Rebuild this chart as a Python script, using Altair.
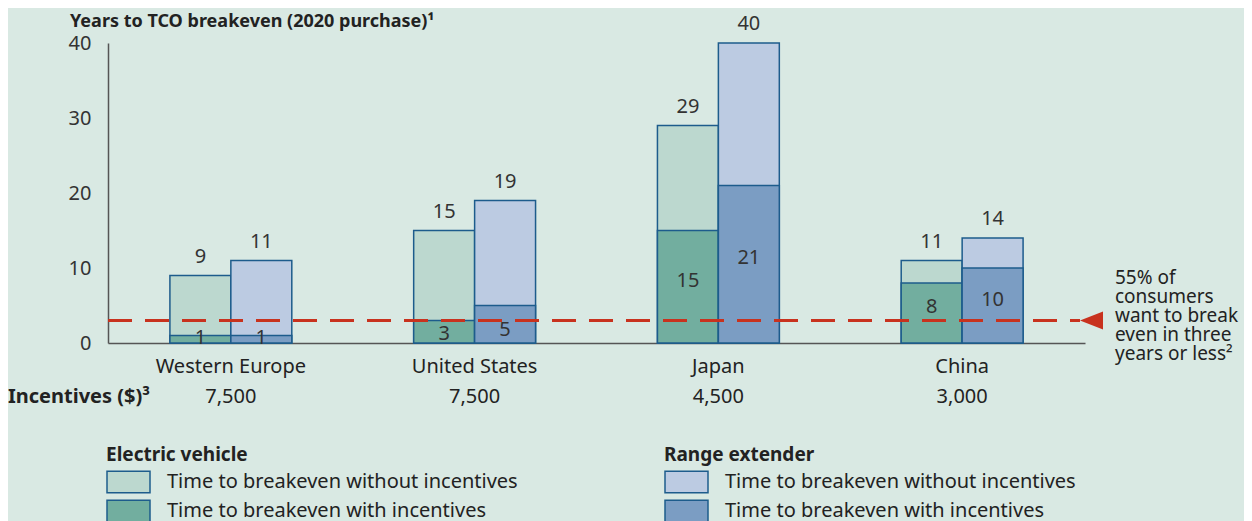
import altair as alt
import pandas as pd

regions = ["Western Europe", "United States", "Japan", "China"]
ev_without = [9, 15, 29, 11]
ev_with = [1, 3, 15, 8]
re_without = [11, 19, 40, 14]
re_with = [1, 5, 21, 10]
incentives = ["7,500", "7,500", "4,500", "3,000"]
threshold = [3]
annotation = ["55% of", "consumers", "want to break", "even in three", "years or less²"]
vehicles = ["Electric vehicle", "Range extender"]
series = ["Time to breakeven without incentives", "Time to breakeven with incentives"]
ev_colors = ["#bcd8cf", "#72ae9f"]
re_colors = ["#bccbe2", "#7b9dc3"]

BG = "#d9e9e3"
EDGE = "#1d5c8c"
RED = "#c8321e"
TXT = "#222222"
FONT = "Noto Sans"

rows = []
for veh, wo, wi in [(vehicles[0], ev_without, ev_with), (vehicles[1], re_without, re_with)]:
    for r, v in zip(regions, wo):
        rows.append(dict(region=r, vehicle=veh, series=series[0], years=v))
    for r, v in zip(regions, wi):
        rows.append(dict(region=r, vehicle=veh, series=series[1], years=v))
df = pd.DataFrame(rows)
df_inc = pd.DataFrame({"region": regions, "incentive": incentives})
df_thr = pd.DataFrame({"threshold": threshold})
df_lbl = pd.DataFrame({"a": [0]})

X = alt.X("region:N", sort=regions,
          scale=alt.Scale(domain=regions, paddingInner=0.5, paddingOuter=0.254),
          axis=alt.Axis(title=None, labelAngle=0, ticks=False, labelPadding=13,
                        labelFontSize=20, labelColor=TXT, domainColor="#555555",
                        domainWidth=1.5))
XO = alt.XOffset("vehicle:N", scale=alt.Scale(domain=vehicles, paddingInner=0, paddingOuter=0))
yscale = alt.Scale(domain=[0, 40], nice=False)
yaxis = alt.Axis(title=None, values=[0, 10, 20, 30, 40], ticks=False, grid=False,
                 labelPadding=17, labelFontSize=20, labelColor="#333333",
                 domainColor="#555555", domainWidth=1.5)


def legend(title, x):
    return alt.Legend(title=title, orient="none", legendX=x, legendY=403,
                      symbolType="M-1,-0.5H1V0.5H-1Z", symbolSize=1849,
                      symbolStrokeColor=EDGE, symbolStrokeWidth=1.5,
                      labelFontSize=20, labelColor=TXT, labelOffset=16,
                      titleFontSize=19, titleFontWeight="bold", titleColor=TXT,
                      titlePadding=3, rowPadding=1, clipHeight=28,
                      padding=0, labelLimit=500)


ev_bars = alt.Chart(df).transform_filter(alt.datum.vehicle == vehicles[0]).mark_bar(
    stroke=EDGE, strokeWidth=1.5).encode(
    x=X, xOffset=XO,
    y=alt.Y("years:Q", scale=yscale, axis=yaxis, stack=None),
    fill=alt.Fill("series:N", scale=alt.Scale(domain=series, range=ev_colors),
                  legend=legend("Electric vehicle", -2)),
)
re_bars = alt.Chart(df).transform_filter(alt.datum.vehicle == vehicles[1]).mark_bar(
    stroke=EDGE, strokeWidth=1.5).encode(
    x=X, xOffset=XO,
    y=alt.Y("years:Q", scale=yscale, axis=yaxis, stack=None),
    fill=alt.Fill("series:N", scale=alt.Scale(domain=series, range=re_colors),
                  legend=legend("Range extender", 556)),
)

top_labels = alt.Chart(df).transform_filter(alt.datum.series == series[0]).mark_text(
    fontSize=20, color="#333333", baseline="middle", dy=-19).encode(
    x=X, xOffset=XO,
    y=alt.Y("years:Q", scale=yscale, axis=yaxis),
    text=alt.Text("years:Q"),
)
inner_labels = alt.Chart(df).transform_filter(alt.datum.series == series[1]).transform_calculate(
    label_y="datum.years < 6 ? datum.years * 0.27 + 0.35 : datum.years * 0.5 + 0.8"
).mark_text(fontSize=20, color="#333333", baseline="middle").encode(
    x=X, xOffset=XO,
    y=alt.Y("label_y:Q", scale=yscale, axis=yaxis),
    text=alt.Text("years:Q"),
)

thr_rule = alt.Chart(df_thr).mark_rule(color=RED, strokeWidth=3, strokeDash=[24, 13]).encode(
    y=alt.Y("threshold:Q", scale=yscale, axis=yaxis),
    x=alt.value(0), x2=alt.value(972),
)
arrow = alt.Chart(df_thr).mark_point(shape="M-1.15,0L1.15,-0.9L1.15,0.9Z", size=400,
                                     filled=True, color=RED, opacity=1, strokeWidth=0).encode(
    y=alt.Y("threshold:Q", scale=yscale, axis=yaxis),
    x=alt.value(983.5),
)
note = alt.Chart(df_thr).mark_text(align="left", baseline="middle", fontSize=19,
                                   lineHeight=19, color=TXT, dy=-43).encode(
    y=alt.Y("threshold:Q", scale=yscale, axis=yaxis),
    x=alt.value(1007),
    text=alt.value(annotation),
)

inc_values = alt.Chart(df_inc).mark_text(fontSize=20, color=TXT, baseline="middle").encode(
    x=X, y=alt.value(354), text="incentive:N",
)
inc_label = alt.Chart(df_lbl).mark_text(fontSize=20, color=TXT, baseline="middle",
                                        align="left", fontWeight="bold").encode(
    x=alt.value(-100), y=alt.value(354), text=alt.value("Incentives ($)³"),
)
title = alt.Chart(df_lbl).mark_text(fontSize=18, color=TXT, baseline="alphabetic",
                                    align="left", fontWeight="bold").encode(
    x=alt.value(-38), y=alt.value(-16), text=alt.value("Years to TCO breakeven (2020 purchase)¹"),
)

chart = alt.layer(
    ev_bars, re_bars, thr_rule, top_labels, inner_labels, arrow, note,
    inc_values, inc_label, title,
).resolve_scale(fill="independent").properties(
    width=977, height=300,
    autosize=alt.AutoSizeParams(type="none"),
    padding={"left": 100, "top": 35, "right": 159, "bottom": 178},
    background=BG,
).configure(font=FONT).configure_view(stroke=None)

chart.save("out.html", embed_options={"renderer": "svg", "actions": False})
